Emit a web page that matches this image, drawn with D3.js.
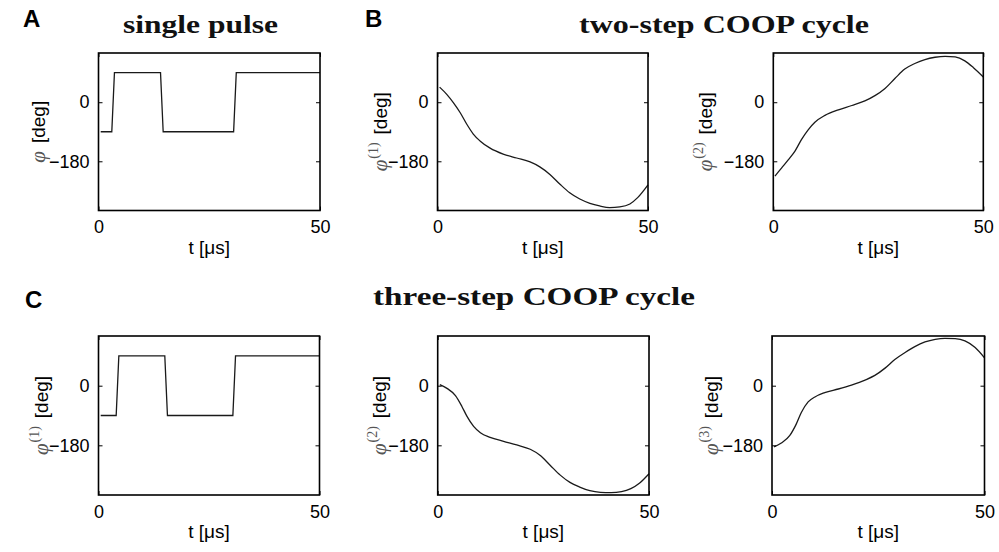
<!DOCTYPE html>
<html><head><meta charset="utf-8">
<script src="https://cdn.jsdelivr.net/npm/d3@7"></script>
<style>body{margin:0;background:#fff;} svg{display:block;}</style>
</head><body>
<svg id="c" width="999" height="552"></svg>
<script>
// ---- data ----
const xDomain = [0, 50];
const yDomain = [-330, 150];
const xTicks = [0, 50];
const yTicks = [0, -180];
const xTickLabels = ["0", "50"];
const yTickLabels = ["0", "\u2212180"];

const tA   = [0.5, 3.0, 3.6, 14.0, 14.6, 30.5, 31.1, 50];
const phiA = [-90, -90, 90, 90, -90, -90, 90, 90];

const tB1   = [0.5, 2.2, 3.8, 5.4, 7.0, 8.5, 10.1, 12.5, 15.6, 18.8, 22.0, 24.3, 26.7, 29.1, 31.4, 33.8, 36.2, 38.5, 40.9, 43.3, 45.7, 47.6, 50];
const phiB1 = [46, 24, -2, -32, -68, -97, -118, -140, -158, -170, -182, -197, -220, -250, -276, -295, -308, -316, -321, -319, -310, -290, -252];

const tB2   = [0.4, 2.0, 3.6, 5.2, 6.7, 8.3, 9.9, 12.3, 15.5, 18.7, 21.8, 24.2, 26.6, 29.0, 31.3, 33.7, 36.1, 38.5, 40.9, 43.3, 45.6, 47.6, 50];
const phiB2 = [-225, -200, -175, -148, -114, -84, -61, -40, -23, -10, 4, 20, 42, 73, 101, 118, 130, 137, 140, 138, 126, 106, 77];

const tC1   = [0.5, 4.0, 4.6, 15.0, 15.6, 30.4, 31.0, 50];
const phiC1 = [-90, -90, 90, 90, -90, -90, 90, 90];

const tC2   = [0.5, 2.2, 4.2, 5.7, 6.9, 8.5, 10.1, 12.4, 15.6, 18.7, 21.9, 24.2, 26.6, 29.0, 31.3, 33.6, 36.0, 38.5, 41.0, 43.5, 45.7, 47.8, 50];
const phiC2 = [3, -8, -30, -62, -92, -123, -142, -156, -168, -179, -192, -210, -240, -270, -292, -306, -317, -322, -323, -320, -311, -294, -266];

const tC3   = [0.5, 2.2, 4.2, 5.7, 6.9, 8.5, 10.1, 12.4, 15.6, 18.7, 21.9, 24.2, 26.6, 28.9, 31.3, 33.6, 36.0, 38.4, 40.7, 43.1, 45.4, 47.8, 50];
const phiC3 = [-185, -173, -150, -116, -81, -49, -34, -21, -10, 2, 17, 31, 53, 79, 100, 118, 132, 140, 143, 142, 135, 115, 84];

const titles = ["single pulse", "two-step COOP cycle", "three-step COOP cycle"];
const panelLetters = ["A", "B", "C"];
const xLabel = "t [\u03bcs]";
const yUnit = "[deg]";

// ---- layout ----
const svg = d3.select("#c");
const panels = [
  {t: tA,  v: phiA,  step: true,  sup: "",    x0: 98.5,  x1: 320,   y0: 53,  y1: 210.5, labCx: 38},
  {t: tB1, v: phiB1, step: false, sup: "(1)", x0: 437.5, x1: 648,   y0: 53,  y1: 210.5, labCx: 380},
  {t: tB2, v: phiB2, step: false, sup: "(2)", x0: 773.3, x1: 983.3, y0: 53,  y1: 210.5, labCx: 705},
  {t: tC1, v: phiC1, step: true,  sup: "(1)", x0: 98.5,  x1: 319.5, y0: 336, y1: 495,   labCx: 41},
  {t: tC2, v: phiC2, step: false, sup: "(2)", x0: 437.7, x1: 649,   y0: 336, y1: 495,   labCx: 379},
  {t: tC3, v: phiC3, step: false, sup: "(3)", x0: 772,   x1: 984.5, y0: 336, y1: 495,   labCx: 711}
];

const sansFont = "'Liberation Sans', Arial, Helvetica, sans-serif";
const serifFont = "'Liberation Serif', 'DejaVu Serif', serif";

panels.forEach(p => {
  const x = d3.scaleLinear().domain(xDomain).range([p.x0, p.x1]);
  const y = d3.scaleLinear().domain(yDomain).range([p.y1, p.y0]);
  const g = svg.append("g");

  const line = d3.line()
    .x(d => x(d[0])).y(d => y(d[1]))
    .curve(p.step ? d3.curveLinear : d3.curveMonotoneX);
  g.append("path")
    .datum(p.t.map((t, i) => [t, p.v[i]]))
    .attr("d", line)
    .attr("fill", "none")
    .attr("stroke", "#1a1a1a")
    .attr("stroke-width", 1.3);

  const left = d3.axisLeft(y).tickValues(yTicks).tickSize(-4).tickPadding(9)
    .tickFormat((d, i) => yTickLabels[i]);
  const gl = g.append("g").attr("transform", `translate(${p.x0},0)`).call(left);
  const right = d3.axisRight(y).tickValues(yTicks).tickSize(-4).tickFormat("");
  const gr = g.append("g").attr("transform", `translate(${p.x1},0)`).call(right);
  const bottom = d3.axisBottom(x).tickValues(xTicks).tickSize(-4).tickPadding(10)
    .tickFormat((d, i) => xTickLabels[i]);
  const gb = g.append("g").attr("transform", `translate(0,${p.y1})`).call(bottom);
  const top = d3.axisTop(x).tickValues(xTicks).tickSize(-4).tickFormat("");
  const gt = g.append("g").attr("transform", `translate(0,${p.y0})`).call(top);

  [gl, gr, gb, gt].forEach(a => {
    a.select(".domain").remove();
    a.selectAll(".tick line").attr("stroke", "#000").attr("stroke-width", 1);
    a.selectAll("text").attr("font-family", sansFont).attr("font-size", 18).attr("fill", "#000");
  });

  g.append("rect")
    .attr("x", p.x0).attr("y", p.y0)
    .attr("width", p.x1 - p.x0).attr("height", p.y1 - p.y0)
    .attr("fill", "none").attr("stroke", "#000").attr("stroke-width", 1.6);

  g.append("text")
    .attr("x", (p.x0 + p.x1) / 2).attr("y", p.y1 + 43)
    .attr("text-anchor", "middle")
    .attr("font-family", sansFont).attr("font-size", 19)
    .text(xLabel);

  const yl = g.append("text")
    .attr("transform", `translate(${p.labCx + 7},${(p.y0 + p.y1) / 2}) rotate(-90)`)
    .attr("text-anchor", "middle");
  yl.append("tspan").attr("font-family", serifFont).attr("font-style", "italic")
    .attr("font-size", 21).attr("fill", "#555").text("\u03c6");
  if (p.sup) {
    yl.append("tspan").attr("font-family", serifFont).attr("font-size", 14)
      .attr("fill", "#555").attr("dy", -9).attr("dx", 1).text(p.sup);
    yl.append("tspan").attr("font-family", sansFont).attr("font-size", 19)
      .attr("dy", 9).attr("dx", 8).attr("fill", "#000").text(yUnit);
  } else {
    yl.append("tspan").attr("font-family", sansFont).attr("font-size", 19)
      .attr("dx", 8).attr("fill", "#000").text(yUnit);
  }
});

const titleSpecs = [
  {cx: 200.5, y: 33, w: 155},
  {cx: 724, y: 33, w: 290},
  {cx: 534, y: 305, w: 322}
];
titles.forEach((tt, i) => {
  svg.append("text")
    .attr("x", titleSpecs[i].cx).attr("y", titleSpecs[i].y)
    .attr("text-anchor", "middle")
    .attr("font-family", serifFont).attr("font-weight", "bold").attr("font-size", 26)
    .attr("textLength", titleSpecs[i].w).attr("lengthAdjust", "spacingAndGlyphs")
    .attr("fill", "#111")
    .text(tt);
});

const letterPos = [[23, 27], [365, 27], [25, 308]];
panelLetters.forEach((L, i) => {
  svg.append("text")
    .attr("x", letterPos[i][0]).attr("y", letterPos[i][1])
    .attr("font-family", sansFont).attr("font-weight", "bold").attr("font-size", 24)
    .attr("fill", "#000")
    .text(L);
});
</script>
</body></html>
